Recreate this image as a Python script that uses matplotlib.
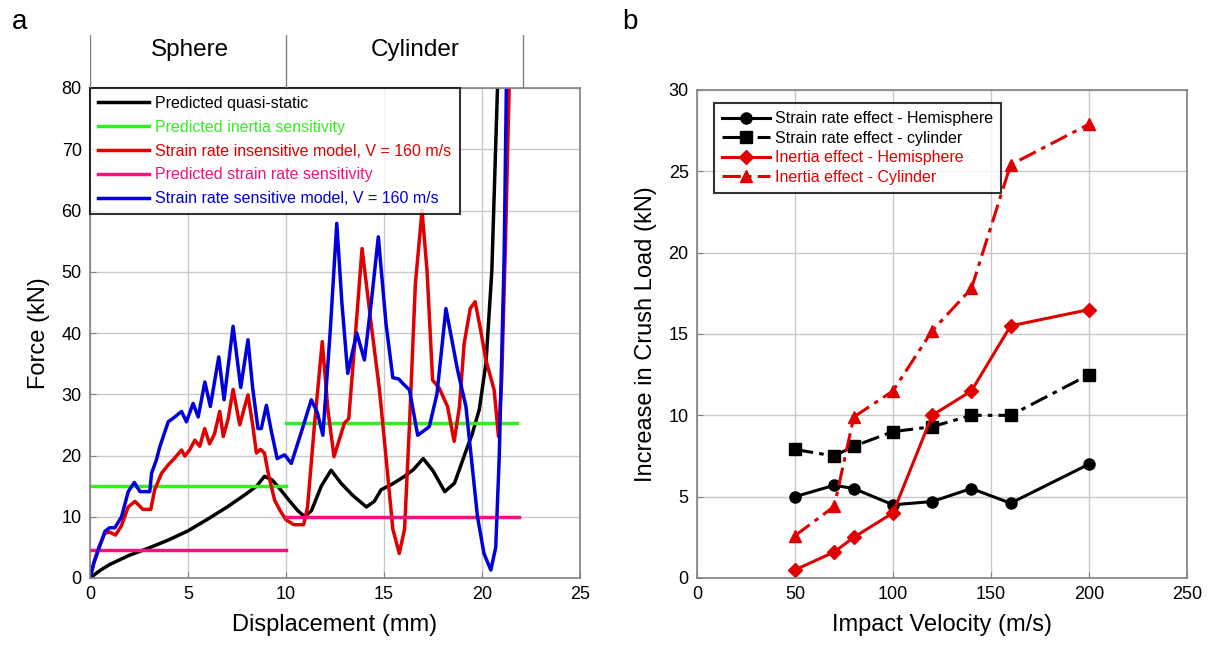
import numpy as np
import matplotlib
matplotlib.use("Agg")
from matplotlib import pyplot as plt

plt.rcParams['font.family'] = ['Liberation Sans', 'DejaVu Sans']

# ---- panel a : force vs displacement ----
x_qs = [0, 0.5, 1, 2, 3, 4, 5, 6, 7, 7.5, 8, 8.5, 8.9, 9.3, 9.7, 10.2, 10.6, 10.95, 11.3, 11.8,
        12.3, 12.8, 13.4, 14.1, 14.5, 14.85, 15.4, 16.0, 16.5, 17.0, 17.5, 18.1, 18.6, 19.2, 19.5,
        19.86, 20.2, 20.5, 20.8]
f_qs = [0, 1.2, 2.2, 3.7, 4.9, 6.2, 7.7, 9.6, 11.6, 12.7, 13.8, 15.0, 16.6, 16.0, 14.5, 12.5, 11.0,
        10.0, 11.0, 15.0, 17.6, 15.5, 13.5, 11.6, 12.5, 14.4, 15.3, 16.5, 17.7, 19.5, 17.5, 14.1, 15.5,
        20.9, 23.5, 27.5, 35, 50, 81]

x_ins = [0, 0.2, 0.45, 0.75, 1.0, 1.3, 1.6, 1.95, 2.3, 2.7, 3.1, 3.3, 3.65, 4.0, 4.3, 4.67, 4.84,
         5.1, 5.35, 5.6, 5.85, 6.1, 6.35, 6.62, 6.8, 7.05, 7.3, 7.64, 7.85, 8.06, 8.3, 8.49, 8.7, 8.9,
         9.1, 9.42, 9.7, 10.0, 10.4, 10.9, 11.1, 11.46, 11.85, 12.14, 12.45, 12.98, 13.2, 13.5, 13.88,
         14.34, 14.77, 15.1, 15.45, 15.78, 16.05, 16.3, 16.6, 16.94, 17.2, 17.48, 17.82, 18.24, 18.58,
         18.85, 19.09, 19.4, 19.65, 19.9, 20.2, 20.62, 20.84, 21.0, 21.2, 21.4]
f_ins = [0, 2.5, 5, 7.3, 7.5, 7.0, 8.5, 11.6, 12.5, 11.2, 11.2, 14.4, 17.1, 18.5, 19.5, 20.9, 19.9,
         21.0, 22.5, 21.5, 24.4, 21.9, 23.5, 27.2, 23.1, 26.0, 30.8, 25.0, 27.5, 29.9, 25.0, 20.4, 21.0,
         20.4, 17.0, 12.7, 11.0, 9.5, 8.7, 8.7, 11.6, 25.3, 38.6, 27.4, 19.8, 25.3, 26.0, 38.0, 53.8,
         41.6, 30.7, 19.8, 8.0, 4.0, 8.0, 25.0, 48.0, 60.0, 50.0, 32.3, 31.0, 28.0, 22.3, 28.0, 38.3,
         44.0, 45.1, 41.0, 35.6, 30.7, 23.1, 32, 55, 82]

x_sens = [0, 0.2, 0.42, 0.76, 1.0, 1.27, 1.61, 1.95, 2.26, 2.55, 3.05, 3.14, 3.39, 3.56, 3.99, 4.33,
          4.67, 4.92, 5.26, 5.52, 5.86, 6.14, 6.57, 6.84, 7.3, 7.69, 8.06, 8.3, 8.57, 8.74, 9.0, 9.25,
          9.55, 9.93, 10.27, 10.8, 11.29, 11.6, 11.88, 12.25, 12.59, 12.85, 13.15, 13.61, 14.0, 14.35,
          14.71, 15.1, 15.45, 15.75, 15.95, 16.3, 16.72, 17.31, 17.7, 18.16, 18.75, 19.18, 19.77, 20.1,
          20.45, 20.7, 20.88, 21.13, 21.25]
f_sens = [0, 2.5, 4.5, 7.6, 8.2, 8.2, 10.0, 14.1, 15.6, 14.1, 14.1, 17.1, 19.3, 21.4, 25.5, 26.3,
          27.2, 25.5, 28.5, 26.3, 32.0, 28.0, 36.1, 29.1, 41.1, 31.1, 38.9, 31.0, 24.4, 24.4, 28.2, 24.0,
          19.5, 20.1, 18.7, 24.0, 29.1, 27.0, 23.3, 40.0, 57.9, 45.0, 33.4, 40.0, 35.6, 45.0,
          55.7, 41.6, 32.7, 32.5, 31.8, 30.7, 23.3, 24.7, 30.0, 44.0, 34.0, 28.0, 10.0, 4.0,
          1.3, 5.0, 19.8, 52.5, 82]

# predicted levels: (x start, x end, force)
inertia_levels = [(0, 10, 15.1), (10, 21.8, 25.3)]
strain_levels = [(0, 10, 4.6), (10, 21.9, 10.0)]

sections = ['Sphere', 'Cylinder']
section_edges = [0, 10, 22.1]
section_label_x = [5.1, 16.6]

# ---- panel b : increase in crush load ----
velocity = [50, 70, 80, 100, 120, 140, 160, 200]
sr_hemi = [5.0, 5.7, 5.5, 4.5, 4.7, 5.5, 4.6, 7.0]
sr_cyl = [7.9, 7.5, 8.1, 9.0, 9.3, 10.0, 10.0, 12.5]
in_hemi = [0.5, 1.6, 2.5, 4.0, 10.0, 11.5, 15.5, 16.5]
in_cyl = [2.6, 4.4, 9.9, 11.5, 15.2, 17.8, 25.4, 27.9]

BLACK = '#000000'
RED = '#e00000'
BLUE = '#0000dd'
GREEN = '#33ee22'
PINK = '#f5127f'
GRID = '#c8c8c8'
SPINE = '#808080'

fig = plt.figure(figsize=(12.1, 6.48), dpi=100)
ax1 = fig.add_axes([90 / 1210, 1 - 578 / 648, 490 / 1210, 490 / 648])
ax2 = fig.add_axes([697 / 1210, 1 - 578 / 648, 490 / 1210, 488 / 648])


def style(ax):
    ax.grid(True, color=GRID, lw=1)
    ax.set_axisbelow(True)
    for s in ax.spines.values():
        s.set_color(SPINE)
        s.set_linewidth(1.2)
    ax.tick_params(direction='in', length=4, color=SPINE, labelsize=13, pad=6)


style(ax1)
lw = 2.5
ax1.plot(x_qs, f_qs, color=BLACK, lw=lw, label='Predicted quasi-static')
for i, (a, b, v) in enumerate(inertia_levels):
    ax1.plot([a, b], [v, v], color=GREEN, lw=lw,
             label='Predicted inertia sensitivity' if i == 0 else None)
ax1.plot(x_ins, f_ins, color=RED, lw=lw, label='Strain rate insensitive model, V = 160 m/s')
for i, (a, b, v) in enumerate(strain_levels):
    ax1.plot([a, b], [v, v], color=PINK, lw=lw,
             label='Predicted strain rate sensitivity' if i == 0 else None)
ax1.plot(x_sens, f_sens, color=BLUE, lw=lw, label='Strain rate sensitive model, V = 160 m/s')
ax1.set_xlim(0, 25)
ax1.set_ylim(0, 80)
ax1.set_xticks(np.arange(0, 26, 5))
ax1.set_yticks(np.arange(0, 81, 10))
ax1.set_xlabel('Displacement (mm)', fontsize=17, labelpad=8)
ax1.set_ylabel('Force (kN)', fontsize=17, labelpad=8)

leg1 = ax1.legend(loc='upper left', bbox_to_anchor=(0, 1), borderaxespad=0, fontsize=11.5,
                  frameon=True, fancybox=False, handlelength=3.2, handletextpad=0.4,
                  labelspacing=0.55, borderpad=0.5)
leg1.get_frame().set_edgecolor('black')
leg1.get_frame().set_linewidth(1.5)
for t, c in zip(leg1.get_texts(), [BLACK, GREEN, RED, PINK, BLUE]):
    t.set_color(c)

# header with section names
axh = fig.add_axes([90 / 1210, 1 - 578 / 648 + 490 / 648, 490 / 1210, 53 / 648])
axh.set_xlim(0, 25)
axh.set_ylim(0, 1)
axh.axis('off')
for e in section_edges:
    axh.axvline(e, color=SPINE, lw=1)
for name, xm in zip(sections, section_label_x):
    axh.text(xm, 0.72, name, ha='center', va='center', fontsize=17.5)

# panel b
style(ax2)
ms = 8
ax2.plot(velocity, sr_hemi, color=BLACK, lw=2.2, marker='o', ms=ms,
         label='Strain rate effect - Hemisphere')
ax2.plot(velocity, sr_cyl, color=BLACK, lw=2.2, marker='s', ms=ms, dashes=(6, 2, 1.5, 2),
         label='Strain rate effect - cylinder')
ax2.plot(velocity, in_hemi, color=RED, lw=2.2, marker='D', ms=ms - 0.5,
         label='Inertia effect - Hemisphere')
ax2.plot(velocity, in_cyl, color=RED, lw=2.2, marker='^', ms=ms + 1, dashes=(6, 2, 1.5, 2),
         label='Inertia effect - Cylinder')
ax2.set_xlim(0, 250)
ax2.set_ylim(0, 30)
ax2.set_xticks(np.arange(0, 251, 50))
ax2.set_yticks(np.arange(0, 31, 5))
ax2.set_xlabel('Impact Velocity (m/s)', fontsize=17, labelpad=8)
ax2.set_ylabel('Increase in Crush Load (kN)', fontsize=17, labelpad=8)

leg2 = ax2.legend(loc='upper left', bbox_to_anchor=(0.035, 0.973), borderaxespad=0, fontsize=11.5,
                  frameon=True, fancybox=False, handlelength=3.0, handletextpad=0.3,
                  labelspacing=0.28, borderpad=0.5)
leg2.get_frame().set_edgecolor('black')
leg2.get_frame().set_linewidth(1.5)
for t, c in zip(leg2.get_texts(), [BLACK, BLACK, RED, RED]):
    t.set_color(c)

fig.text(12 / 1210, 1 - 22 / 648, 'a', fontsize=20, va='center')
fig.text(622 / 1210, 1 - 22 / 648, 'b', fontsize=20, va='center')

fig.savefig('out.png', dpi=100)
